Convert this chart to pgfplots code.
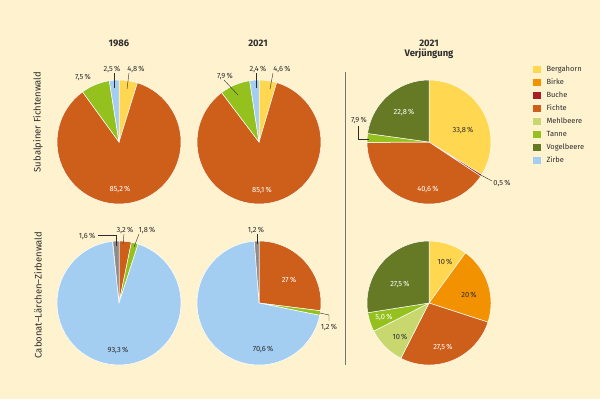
\documentclass[border=0pt]{standalone}
\usepackage{pgfplots}
\pgfplotsset{compat=1.18}
\usepackage{fontspec}
\setmainfont{Fira Sans}
\definecolor{bgc}{RGB}{255,242,207}
\definecolor{bergc}{RGB}{255,215,80}
\definecolor{birkec}{RGB}{243,146,0}
\definecolor{buchec}{RGB}{168,30,35}
\definecolor{fichtec}{RGB}{205,95,26}
\definecolor{mehlc}{RGB}{200,216,110}
\definecolor{tannec}{RGB}{149,193,31}
\definecolor{vogelc}{RGB}{102,122,37}
\definecolor{zirbec}{RGB}{163,206,241}
\definecolor{grayc}{RGB}{140,140,140}
\definecolor{txtc}{RGB}{45,45,45}
% slice: cx, cy (pixel), start (%), value (%), colour
\newcommand{\slice}[5]{%
  \addplot[forget plot, fill=#5, draw=white, line width=0.5pt,
    domain=#3:#3+#4, samples=60, variable=\t]
    ({#1+62*sin(3.6*\t)},{#2-62*cos(3.6*\t)}) -- (axis cs:#1,#2) -- cycle;}
\newcommand{\lab}[4][txtc]{\node[font=\fontsize{7.5}{9}\selectfont, text=#1] at (axis cs:#2,#3) {#4};}
\newcommand{\leg}[3]{%
  \addplot[forget plot, only marks, mark=square*, mark size=3.3pt, color=#2] coordinates {(536.5,#1)};
  \node[anchor=west, font=\fontsize{7.5}{9}\selectfont, text=txtc] at (axis cs:543,#1) {#3};}
\begin{document}
\begin{tikzpicture}
\begin{axis}[x=1bp, y=1bp, y dir=reverse, xmin=0, xmax=600, ymin=0, ymax=399,
  hide axis, scale only axis, clip=false]
\fill[bgc] (axis cs:0,0) rectangle (axis cs:600,399);
% titles
\node[font=\fontsize{9.5}{11}\selectfont\bfseries, text=txtc] at (axis cs:119,43) {1986};
\node[font=\fontsize{9.5}{11}\selectfont\bfseries, text=txtc] at (axis cs:258,43) {2021};
\node[font=\fontsize{9.5}{11}\selectfont\bfseries, text=txtc, align=center] at (axis cs:429,49) {2021\\[-1pt]Verjüngung};
\node[font=\fontsize{9.5}{11}\selectfont, text=txtc, rotate=90] at (axis cs:38,122) {Subalpiner Fichtenwald};
\node[font=\fontsize{9.5}{11}\selectfont, text=txtc, rotate=90] at (axis cs:38,295) {Cabonat–Lärchen–Zirbenwald};
% separator
\addplot[forget plot, color=black!55, line width=0.8pt] coordinates {(345,72) (345,365)};
% ---- top 1986
\slice{119}{142}{0}{4.8}{bergc}
\slice{119}{142}{4.8}{85.2}{fichtec}
\slice{119}{142}{90}{7.5}{tannec}
\slice{119}{142}{97.5}{2.5}{zirbec}
% ---- top 2021
\slice{259}{142}{0}{4.6}{bergc}
\slice{259}{142}{4.6}{85.1}{fichtec}
\slice{259}{142}{89.7}{7.9}{tannec}
\slice{259}{142}{97.6}{2.4}{zirbec}
% ---- top Verjuengung
\slice{429}{142}{0}{33.8}{bergc}
\slice{429}{142}{33.8}{0.5}{buchec}
\slice{429}{142}{34.3}{40.6}{fichtec}
\slice{429}{142}{74.9}{2.3}{tannec}
\slice{429}{142}{77.2}{22.8}{vogelc}
% ---- bottom 1986
\slice{119}{303}{0}{3.2}{fichtec}
\slice{119}{303}{3.2}{1.8}{tannec}
\slice{119}{303}{5.0}{93.3}{zirbec}
\slice{119}{303}{98.4}{1.6}{grayc}
% ---- bottom 2021
\slice{259}{303}{0}{27}{fichtec}
\slice{259}{303}{27}{1.2}{tannec}
\slice{259}{303}{28.2}{70.6}{zirbec}
\slice{259}{303}{98.8}{1.2}{grayc}
% ---- bottom Verjuengung
\slice{429}{303}{0}{10}{bergc}
\slice{429}{303}{10}{20}{birkec}
\slice{429}{303}{30}{27.5}{fichtec}
\slice{429}{303}{57.5}{10}{mehlc}
\slice{429}{303}{67.5}{5}{tannec}
\slice{429}{303}{72.5}{27.5}{vogelc}
% leader lines
\addplot[forget plot, color=txtc, line width=0.4pt] coordinates {(114,73) (114,88)};
\addplot[forget plot, color=txtc, line width=0.4pt] coordinates {(129,73) (127,89)};
\addplot[forget plot, color=txtc, line width=0.4pt] coordinates {(224,80) (238,95)};
\addplot[forget plot, color=txtc, line width=0.4pt] coordinates {(256,73) (256,88)};
\addplot[forget plot, color=txtc, line width=0.4pt] coordinates {(273,73) (270,89)};
\addplot[forget plot, color=txtc, line width=0.4pt] coordinates {(358,126) (358,139) (369,139)};
\addplot[forget plot, color=txtc, line width=0.4pt] coordinates {(479,174) (492,181)};
\addplot[forget plot, color=txtc, line width=0.4pt] coordinates {(98,235) (116,235) (116,246)};
\addplot[forget plot, color=txtc, line width=0.4pt] coordinates {(124,234) (123,244)};
\addplot[forget plot, color=txtc, line width=0.4pt] coordinates {(139,234) (134,247)};
\addplot[forget plot, color=txtc, line width=0.4pt] coordinates {(257,234) (257,244)};
\addplot[forget plot, color=txtc, line width=0.4pt] coordinates {(320,313) (329,315) (329,321)};
% labels top
\lab{112}{69}{2,5\,\%}
\lab{136}{69}{4,8\,\%}
\lab{83}{77}{7,5\,\%}
\lab[white]{120}{189}{85,2\,\%}
\lab{258}{69}{2,4\,\%}
\lab{282}{69}{4,6\,\%}
\lab{225}{76}{7,9\,\%}
\lab[white]{262}{190}{85,1\,\%}
\lab{463}{130}{33,8\,\%}
\lab[white]{404}{112}{22,8\,\%}
\lab[white]{428}{189}{40,6\,\%}
\lab{359}{120}{7,9\,\%}
\lab{502}{183}{0,5\,\%}
% labels bottom
\lab{87}{236}{1,6\,\%}
\lab{125}{230}{3,2\,\%}
\lab{147}{230}{1,8\,\%}
\lab{118}{350}{93,3\,\%}
\lab{256}{230}{1,2\,\%}
\lab[white]{289}{280}{27\,\%}
\lab{329}{327}{1,2\,\%}
\lab{263}{349}{70,6\,\%}
\lab{445}{262}{10\,\%}
\lab{469}{295}{20\,\%}
\lab[white]{443}{347}{27,5\,\%}
\lab{400}{337}{10\,\%}
\lab[white]{384}{317}{5,0\,\%}
\lab[white]{400}{284}{27,5\,\%}
% legend
\leg{69}{bergc}{Bergahorn}
\leg{82}{birkec}{Birke}
\leg{95}{buchec}{Buche}
\leg{108}{fichtec}{Fichte}
\leg{121}{mehlc}{Mehlbeere}
\leg{134}{tannec}{Tanne}
\leg{147}{vogelc}{Vogelbeere}
\leg{160}{zirbec}{Zirbe}
\end{axis}
\end{tikzpicture}
\end{document}
